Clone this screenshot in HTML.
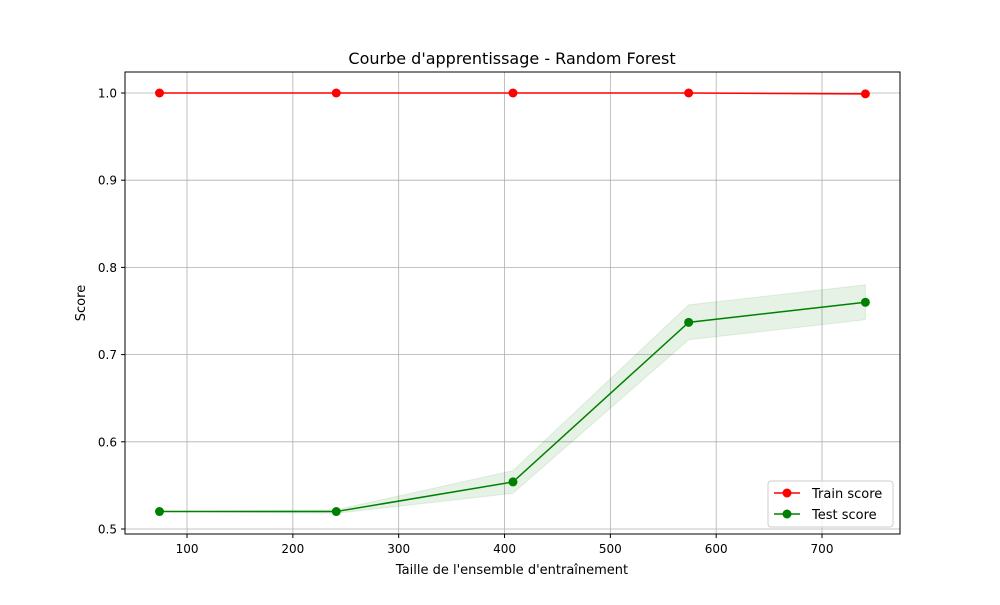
<!DOCTYPE html>
<html><head><meta charset="utf-8"><style>
body{margin:0;background:#fff;font-family:"Liberation Sans","DejaVu Sans",sans-serif}
svg text{font-family:"DejaVu Sans","Liberation Sans",sans-serif}
</style></head><body>
<svg id="chart" width="1000" height="600" xmlns="http://www.w3.org/2000/svg">
<rect width="1000" height="600" fill="#fff"/>
<g id="grid"></g>
<g id="bands"></g>
<g id="series"></g>
<rect x="125" y="72" width="775" height="462" fill="none" stroke="#000" stroke-width="1"/>
<g id="ticks"></g>
<text x="512" y="64" text-anchor="middle" font-size="16">Courbe d'apprentissage - Random Forest</text>
<text x="512" y="574" text-anchor="middle" font-size="13">Taille de l'ensemble d'entraînement</text>
<text x="85" y="303" text-anchor="middle" font-size="13" transform="rotate(-90 85 303)">Score</text>
<g>
<rect x="768" y="481" width="125" height="46" rx="3" fill="#fff" fill-opacity="0.8" stroke="#ccc"/>
<g>
<line x1="774" y1="493" x2="800" y2="493" stroke="red" stroke-width="1.5"/><circle cx="787" cy="493" r="4.5" fill="red"/>
<text x="812" y="498" font-size="13">Train score</text></g>
<g>
<line x1="774" y1="514" x2="800" y2="514" stroke="green" stroke-width="1.5"/><circle cx="787" cy="514" r="4.5" fill="green"/>
<text x="812" y="519" font-size="13">Test score</text></g>
</g>
</svg>
<script>
const trainSizes=[74,241,408,574,741];
const trainScores=[1.0,1.0,1.0,1.0,0.999];
const trainStd=[0,0,0,0,0.001];
const testScores=[0.52,0.52,0.554,0.737,0.760];
const testStd=[0,0.002,0.013,0.02,0.02];
const xTicks=[100,200,300,400,500,600,700];
const yTicks=[0.5,0.6,0.7,0.8,0.9,1.0];
const NS="http://www.w3.org/2000/svg";
function X(v){return 81.2+v*1.0583;}
function Y(v){return 529-(v-0.5)*872;}
function mk(t,a,p){const e=document.createElementNS(NS,t);for(const k in a)e.setAttribute(k,a[k]);p.appendChild(e);return e;}
const grid=document.getElementById('grid'),ticks=document.getElementById('ticks');
xTicks.forEach(v=>{const x=X(v);
const g=mk('line',{x1:x,x2:x,y1:72,y2:534,stroke:'#b0b0b0','stroke-width':0.8},grid);


mk('line',{x1:x,x2:x,y1:534,y2:538,stroke:'#000'},ticks);
const t=mk('text',{x:x,y:553,'text-anchor':'middle','font-size':12},ticks);t.textContent=v;

});
yTicks.forEach(v=>{const y=Y(v);
const g=mk('line',{x1:125,x2:900,y1:y,y2:y,stroke:'#b0b0b0','stroke-width':0.8},grid);


mk('line',{x1:121,x2:125,y1:y,y2:y,stroke:'#000'},ticks);
const t=mk('text',{x:117,y:y+4.5,'text-anchor':'end','font-size':12},ticks);t.textContent=v.toFixed(1);

});
function band(m,s,c,name){const up=trainSizes.map((x,i)=>X(x)+','+Y(m[i]+s[i]));
const dn=trainSizes.map((x,i)=>X(x)+','+Y(m[i]-s[i])).reverse();
const p=mk('polygon',{points:up.concat(dn).join(' '),fill:c,'fill-opacity':0.1,stroke:c,'stroke-opacity':0.1},document.getElementById('bands'));

}
band(trainScores,trainStd,'red','train-band');band(testScores,testStd,'green','test-band');
function line(m,c,name){const s=document.getElementById('series');
const l=mk('polyline',{points:trainSizes.map((x,i)=>X(x)+','+Y(m[i])).join(' '),fill:'none',stroke:c,'stroke-width':1.5},s);


trainSizes.forEach((x,i)=>{const p=mk('circle',{cx:X(x),cy:Y(m[i]),r:4.5,fill:c},s);

});}
line(trainScores,'red','train-score');line(testScores,'green','test-score');
</script>
</body></html>
